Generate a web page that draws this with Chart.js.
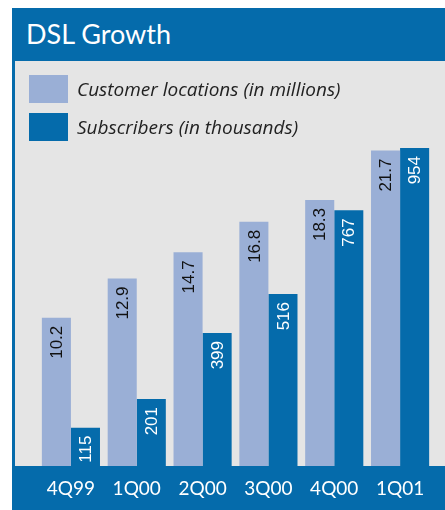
<!DOCTYPE html>
<html>
<head>
<meta charset="utf-8">
<script src="https://cdn.jsdelivr.net/npm/chart.js@4"></script>
<style>
  body { margin: 0; background: #fff; width: 445px; height: 510px; overflow: hidden; position: relative; }
  .frame { position: absolute; left: 12px; top: 8px; width: 430px; height: 502px; border-left: 3px solid #056bab; background: #e5e5e5; }
  .header { height: 53px; background: #056bab; color: #fff; font-family: Lato, sans-serif; font-size: 27px; line-height: 51px; padding-left: 11px; }
  .legend { position: absolute; left: 14px; top: 67px; font-family: "Open Sans", sans-serif; font-style: italic; font-size: 19px; color: #222; z-index: 2; }
  .legend div { display: flex; align-items: center; height: 28px; margin-bottom: 10px; }
  .legend span.box { width: 39px; height: 28px; margin-right: 9px; }
  .plot { position: absolute; left: 0; top: 53px; width: 430px; height: 449px; }
</style>
</head>
<body>
<div class="frame">
  <div class="header">DSL Growth</div>
  <div class="legend" id="legend"></div>
  <div class="plot">
    <canvas id="chart" width="430" height="449"></canvas>
  </div>
</div>
<script>
const quarters = ["4Q99", "1Q00", "2Q00", "3Q00", "4Q00", "1Q01"]
const locations = [10.2, 12.9, 14.7, 16.8, 18.3, 21.7]
const subscribers = [115, 201, 399, 516, 767, 954]
const seriesNames = ["Customer locations (in millions)", "Subscribers (in thousands)"]

const lightBlue = "#9aafd6"
const darkBlue = "#056bab"

// legend drawn as plain html, two rows
const legend = document.querySelector("#legend")
legend.innerHTML = seriesNames.map((name, i) =>
    `<div><span class="box" style="background:${i === 0 ? lightBlue : darkBlue}"></span>${name}</div>`
).join("")

// blue band behind the category labels
const bottomBand = {
    id: "bottomBand",
    beforeDraw(chart) {
        const { ctx, chartArea } = chart
        ctx.save()
        ctx.fillStyle = darkBlue
        ctx.fillRect(0, chartArea.bottom, chart.width, chart.height - chartArea.bottom)
        ctx.restore()
    }
}

// vertical value labels at the top of each bar
const barValues = {
    id: "barValues",
    afterDatasetsDraw(chart) {
        const ctx = chart.ctx
        chart.data.datasets.forEach((ds, di) => {
            const meta = chart.getDatasetMeta(di)
            meta.data.forEach((bar, i) => {
                const value = ds.data[i]
                ctx.save()
                ctx.translate(bar.x + 1, bar.y + 8)
                ctx.rotate(-Math.PI / 2)
                ctx.font = "17px 'Liberation Sans', Arial, sans-serif"
                ctx.fillStyle = di === 0 ? "#111" : "#fff"
                ctx.textAlign = "right"
                ctx.textBaseline = "middle"
                ctx.fillText(di === 0 ? value.toFixed(1) : String(value), 0, 0)
                ctx.restore()
            })
        })
    }
}

const ctx = document.querySelector("canvas#chart")

new Chart(ctx, {
    type: "bar",
    data: {
        labels: quarters,
        datasets: [
            {
                label: seriesNames[0],
                data: locations,
                backgroundColor: lightBlue,
                yAxisID: "y",
            },
            {
                label: seriesNames[1],
                data: subscribers,
                backgroundColor: darkBlue,
                yAxisID: "y1",
            }
        ]
    },
    options: {
        responsive: false,
        animation: false,
        categoryPercentage: 0.883,
        barPercentage: 1,
        layout: {
            padding: { left: 23, right: 12, top: 75, bottom: 0 }
        },
        plugins: {
            legend: { display: false },
            tooltip: { enabled: false }
        },
        scales: {
            x: {
                grid: { display: false, drawTicks: false },
                border: { display: false },
                ticks: {
                    color: "#fff",
                    padding: 11,
                    font: { family: "Lato", size: 19 }
                },
                afterFit: (scale) => { scale.height = 44 }
            },
            y: {
                display: false,
                min: 0,
                max: 22.7
            },
            y1: {
                display: false,
                min: 0,
                max: 990
            }
        }
    },
    plugins: [bottomBand, barValues]
})
</script>
</body>
</html>
